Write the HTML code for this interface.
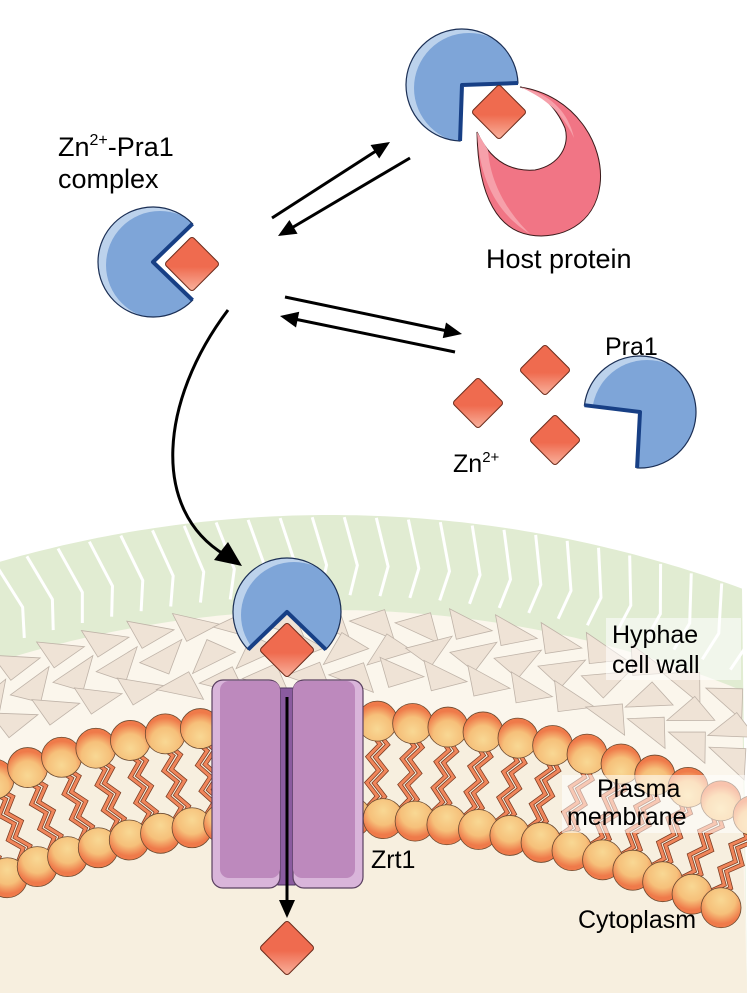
<!DOCTYPE html>
<html><head><meta charset="utf-8">
<style>
html,body{margin:0;padding:0;background:#fff;width:747px;height:993px;overflow:hidden;}
svg{display:block;}
text{font-family:"Liberation Sans",sans-serif;fill:#000;}
</style></head>
<body>
<svg id="s" width="747" height="993" viewBox="0 0 747 993" xmlns="http://www.w3.org/2000/svg">
<defs>
<linearGradient id="dg" x1="0" y1="0" x2="1" y2="1">
<stop offset="0.55" stop-color="#ef6b4f"/><stop offset="1" stop-color="#f9b4a0"/>
</linearGradient>
<radialGradient id="hg" cx="0.5" cy="0.7" r="0.6">
<stop offset="0" stop-color="#f8d894"/><stop offset="0.6" stop-color="#f6c07a"/><stop offset="1" stop-color="#ef7a4a"/>
</radialGradient>
<clipPath id="cl"><rect x="0" y="0" width="747" height="993"/></clipPath>
</defs>
<g id="mem" clip-path="url(#cl)">
<rect x="0" y="0" width="747" height="993" fill="#fff"/>
<g id="bands"></g>
<g id="wallgaps"></g>
<g id="tris"></g>
<g id="lip"></g>
</g>
<g id="fg"></g>
<text x="612" y="643" font-size="25">Hyphae</text>
<text x="612" y="673" font-size="25">cell wall</text>
<text x="597" y="797" font-size="25">Plasma</text>
<text x="567" y="825" font-size="25">membrane</text>
<text x="371" y="868" font-size="25">Zrt1</text>
<text x="578" y="928" font-size="25">Cytoplasm</text>
<text x="58" y="156" font-size="27">Zn<tspan font-size="16" dy="-11">2+</tspan><tspan dy="11">-Pra1</tspan></text>
<text x="58" y="188" font-size="27">complex</text>
<text x="486" y="268" font-size="27">Host protein</text>
<text x="605" y="355" font-size="25">Pra1</text>
<text x="453" y="472" font-size="25">Zn<tspan font-size="15" dy="-10">2+</tspan></text>
</svg>
<script>
var NS="http://www.w3.org/2000/svg";
function el(t,a,p){var e=document.createElementNS(NS,t);for(var k in a)e.setAttribute(k,a[k]);(p||document.getElementById('fg')).appendChild(e);return e;}
var CX=330,CY=1705;
function ptA(R,a){return [CX+R*Math.sin(a),CY-R*Math.cos(a)];}
function band(R,fill){
 var pts=[];
 for(var x=0;x<=747;x+=7){var dx=x-CX;var y=CY-Math.sqrt(R*R-dx*dx);pts.push(x+','+Math.min(y,993).toFixed(1));}
 pts.push('747,993');pts.push('0,993');
 el('polygon',{points:pts.join(' '),fill:fill},document.getElementById('bands'));
}
band(1190,'#e1ecd2');band(1095,'#fbf6ec');band(985,'#f7efdf');
function inV(p){return p[0]>-40&&p[0]<790&&p[1]<1000;}
var wg=document.getElementById('wallgaps');
for(var a=-0.42;a<0.45;a+=0.027){
 var p1=ptA(1188,a),p2=ptA(1110,a+0.006),p3=ptA(1140,a+0.012);
 if(!inV(p1))continue;
 el('polyline',{points:p1+' '+p3+' '+p2,fill:'none',stroke:'#fff','stroke-width':3},wg);
}
var tg=document.getElementById('tris');
for(var row=0;row<3;row++){
 var R=1085-row*27;
 for(var a=-0.42+row*0.012;a<0.45;a+=0.042){
  var c=ptA(R,a);if(!inV(c))continue;var up=(Math.round(a*100)+row)%2==0;
  var ang=a*180/Math.PI+(up?0:180)+(row%2?-20:20);
  el('polygon',{points:'-24,10 24,10 4,-14',fill:'#efe3d6',stroke:'#bfb3a8','stroke-width':0.8,transform:'translate('+c[0].toFixed(1)+','+c[1].toFixed(1)+') rotate('+ang.toFixed(1)+')'},tg);
 }
}
var lp=document.getElementById('lip');
var step=0.036;
for(var a=-0.42;a<0.45;a+=step){
 if(!inV(ptA(985,a)))continue;
 for(var t=-1;t<=1;t+=2){
  var pts=[];
  for(var k=0;k<=6;k++){var R=975-k*13;var q=ptA(R,a+t*0.004+(k%2?0.008:-0.004));pts.push(q[0].toFixed(1)+','+q[1].toFixed(1));}
  el('polyline',{points:pts.join(' '),fill:'none',stroke:'#7a3a20','stroke-width':4.5},lp);
  el('polyline',{points:pts.join(' '),fill:'none',stroke:'#f0855a','stroke-width':3},lp);
 }
}
for(var a=-0.42;a<0.45;a+=step){
 var o=ptA(985,a),i=ptA(888,a+0.012);
 if(inV(o))el('circle',{cx:o[0],cy:o[1],r:20,fill:'url(#hg)',stroke:'#6b4a30','stroke-width':0.8},lp);
 if(inV(i)&&i[1]<975)el('circle',{cx:i[0],cy:i[1],r:20,fill:'url(#hg)',stroke:'#6b4a30','stroke-width':0.8,transform:'rotate(180 '+i[0]+' '+i[1]+')'},lp);
}
el('rect',{x:606,y:618,width:135,height:62,fill:'#fff',opacity:0.55},lp);
el('rect',{x:562,y:775,width:185,height:58,fill:'#fff',opacity:0.55},lp);

function diamond(cx,cy,h){
 el('rect',{x:cx-h*0.7,y:cy-h*0.7,width:h*1.4,height:h*1.4,rx:3,fill:'url(#dg)',stroke:'#6a2a1a','stroke-width':1,transform:'rotate(45 '+cx+' '+cy+')'});
}
var pcn=0;
function pac(cx,cy,r,dir,half){
 var d=dir*Math.PI/180,h=half*Math.PI/180;
 var a1=d-h,a2=d+h;
 var p1=[cx+r*Math.cos(a1),cy+r*Math.sin(a1)],p2=[cx+r*Math.cos(a2),cy+r*Math.sin(a2)];
 var path='M'+cx+','+cy+' L'+p1+' A'+r+','+r+' 0 1 0 '+p2+' Z';
 var g=el('g',{});
 var clip='pc'+(pcn++);
 var cp=el('clipPath',{id:clip},g);el('path',{d:path},cp);
 var hg=el('g',{'clip-path':'url(#'+clip+')'},g);
 el('circle',{cx:cx,cy:cy,r:r,fill:'#bcd2ec'},hg);
 el('circle',{cx:cx+7,cy:cy+3,r:r-1,fill:'#7ea5d8'},hg);
 el('path',{d:path,fill:'none',stroke:'#1b2f55','stroke-width':1.2},g);
 el('polyline',{points:p1+' '+cx+','+cy+' '+p2,fill:'none',stroke:'#173f85','stroke-width':4,'stroke-linejoin':'round'},g);
}
function arrow(x1,y1,x2,y2){
 var dx=x2-x1,dy=y2-y1,L=Math.hypot(dx,dy),ux=dx/L,uy=dy/L;
 var bx=x2-ux*18,by=y2-uy*18;
 el('line',{x1:x1,y1:y1,x2:bx+ux*2,y2:by+uy*2,stroke:'#000','stroke-width':3});
 el('polygon',{points:x2+','+y2+' '+(bx-uy*8)+','+(by+ux*8)+' '+(bx+uy*8)+','+(by-ux*8),fill:'#000'});
}
el('rect',{x:278,y:688,width:17,height:197,fill:'#8a5b9f',stroke:'#4e3560','stroke-width':1});
[[212,280],[293,363]].forEach(function(r){
 el('rect',{x:r[0],y:680,width:r[1]-r[0],height:208,rx:11,fill:'#d9b5da',stroke:'#5a4060','stroke-width':1.2});
 el('rect',{x:r[0]+(r[0]<250?8:0),y:681,width:r[1]-r[0]-8,height:197,rx:9,fill:'#bd89bd'});
});
arrow(287,697,287,918);
pac(287,612,54,90,46);
diamond(287,650,28);
diamond(287,948,28);
pac(153,262,55,0,44);
diamond(192,264,28);
el('path',{d:'M520,87 C575,95 605,145 600,185 C595,225 560,240 530,235 C500,230 478,200 477,132 C490,160 510,172 535,170 C560,165 570,145 565,128 C555,105 540,92 520,87 Z',fill:'#f17585',stroke:'#3a1a1a','stroke-width':1});
el('path',{d:'M477,132 C480,185 500,215 530,234 C505,210 490,180 488,150 Z',fill:'#f6a0aa'});
el('path',{d:'M520,87 C548,93 568,110 574,138 C562,112 545,98 520,87 Z',fill:'#f6a0aa'});
pac(462,85,56,45,47);
diamond(499,112,28);
pac(640,412,56,140,47);
diamond(545,370,26);diamond(478,403,26);diamond(555,440,26);
arrow(272,218,390,142);
arrow(410,158,278,236);
arrow(285,297,462,334);
arrow(455,352,280,316);
el('path',{d:'M228,310 C160,400 150,510 225,555',fill:'none',stroke:'#000','stroke-width':3});
el('polygon',{points:'242,566 214,560 228,542',fill:'#000'});
</script>
</body></html>
